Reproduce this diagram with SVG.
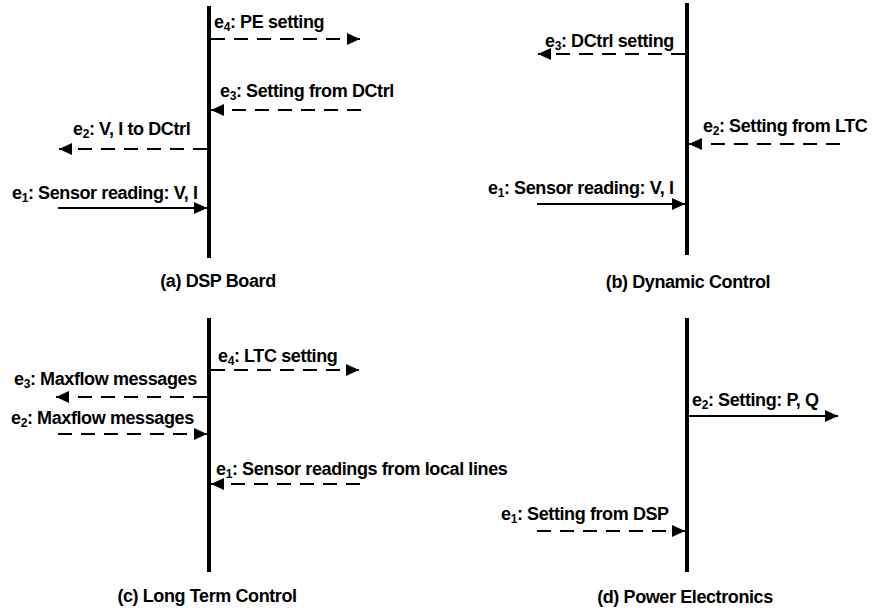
<svg xmlns="http://www.w3.org/2000/svg" width="876" height="614" viewBox="0 0 876 614">
<style>
text{font-family:"Liberation Sans",Arial,sans-serif;font-weight:bold;font-size:18px;letter-spacing:-0.4px;fill:#000}
.s{font-size:12px}
.life{stroke:#000;stroke-width:4;fill:none}
.msg{stroke:#000;stroke-width:2;fill:none;marker-end:url(#ah)}
.d{stroke-dasharray:14 9}
</style>
<defs>
<marker id="ah" markerUnits="userSpaceOnUse" markerWidth="13" markerHeight="12" refX="13" refY="6" orient="auto">
<path d="M0,0 L13,6 L0,12 z" fill="#000"/>
</marker>
</defs>
<rect width="876" height="614" fill="#fff"/>

<g id="panel-a">
<line class="life" x1="209" y1="6" x2="209" y2="258"/>
<text x="218" y="287" text-anchor="middle">(a) DSP Board</text>
</g>
<g id="panel-b">
<line class="life" x1="687" y1="3" x2="687" y2="255"/>
<text x="688" y="288" text-anchor="middle">(b) Dynamic Control</text>
</g>
<g id="panel-c">
<line class="life" x1="209" y1="318" x2="209" y2="572"/>
<text x="207" y="602" text-anchor="middle">(c) Long Term Control</text>
</g>
<g id="panel-d">
<line class="life" x1="687" y1="318" x2="687" y2="572"/>
<text x="685" y="603" text-anchor="middle">(d) Power Electronics</text>
</g>

<g id="connectors">
<line class="msg d" x1="211" y1="39" x2="360" y2="39"/>
<line class="msg d" x1="361" y1="110" x2="211" y2="110"/>
<line class="msg d" x1="207" y1="149" x2="59" y2="149"/>
<line class="msg" x1="58" y1="208" x2="207" y2="208"/>
<line class="msg d" x1="685" y1="54" x2="538" y2="54"/>
<line class="msg d" x1="840" y1="144" x2="689" y2="144"/>
<line class="msg" x1="537" y1="204" x2="685" y2="204"/>
<line class="msg d" x1="211" y1="370" x2="359" y2="370"/>
<line class="msg d" x1="207" y1="397" x2="56" y2="397"/>
<line class="msg d" x1="58" y1="434" x2="207" y2="434"/>
<line class="msg d" x1="360" y1="484" x2="211" y2="484"/>
<line class="msg" x1="689" y1="416" x2="838" y2="416"/>
<line class="msg d" x1="537" y1="531" x2="685" y2="531"/>
</g>

<g id="labels">
<text x="214" y="28">e<tspan class="s" dy="3">4</tspan><tspan dy="-3">: PE setting</tspan></text>
<text x="220" y="97">e<tspan class="s" dy="3">3</tspan><tspan dy="-3">: Setting from DCtrl</tspan></text>
<text x="73" y="135">e<tspan class="s" dy="3">2</tspan><tspan dy="-3">: V, I to DCtrl</tspan></text>
<text x="12" y="199">e<tspan class="s" dy="3">1</tspan><tspan dy="-3">: Sensor reading: V, I</tspan></text>

<text x="545" y="47">e<tspan class="s" dy="3">3</tspan><tspan dy="-3">: DCtrl setting</tspan></text>
<text x="703" y="132">e<tspan class="s" dy="3">2</tspan><tspan dy="-3">: Setting from LTC</tspan></text>
<text x="488" y="194">e<tspan class="s" dy="3">1</tspan><tspan dy="-3">: Sensor reading: V, I</tspan></text>

<text x="218" y="362">e<tspan class="s" dy="3">4</tspan><tspan dy="-3">: LTC setting</tspan></text>
<text x="14" y="385">e<tspan class="s" dy="3">3</tspan><tspan dy="-3">: Maxflow messages</tspan></text>
<text x="11" y="424">e<tspan class="s" dy="3">2</tspan><tspan dy="-3">: Maxflow messages</tspan></text>
<text x="216" y="475">e<tspan class="s" dy="3">1</tspan><tspan dy="-3">: Sensor readings from local lines</tspan></text>

<text x="692" y="406">e<tspan class="s" dy="3">2</tspan><tspan dy="-3">: Setting: P, Q</tspan></text>
<text x="501" y="520">e<tspan class="s" dy="3">1</tspan><tspan dy="-3">: Setting from DSP</tspan></text>
</g>
</svg>
